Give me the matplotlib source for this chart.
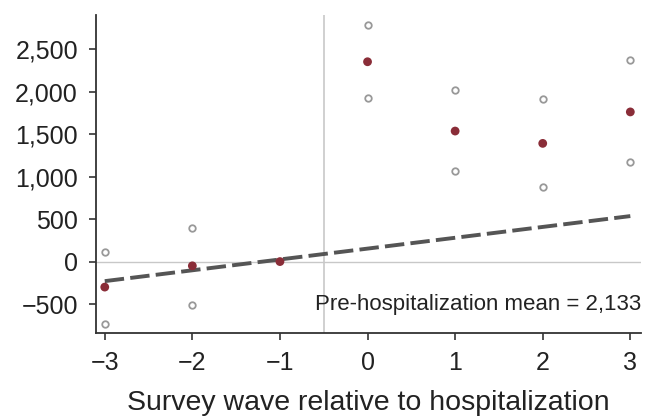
import matplotlib
matplotlib.use("Agg")
import matplotlib.pyplot as plt

plt.rcParams['font.family'] = ['Liberation Sans', 'DejaVu Sans']

waves = [-3, -2, -1, 0, 1, 2, 3]
means = [-300, -50, 0, 2350, 1535, 1390, 1760]
ci_waves = [-3, -3, -2, -2, 0, 0, 1, 1, 2, 2, 3, 3]
ci_bounds = [115, -735, 400, -505, 2780, 1927, 2014, 1068, 1915, 873, 2367, 1167]
trend_x = [-3, 3]
trend_y = [-230, 535]
yticks = [-500, 0, 500, 1000, 1500, 2000, 2500]
xticks = [-3, -2, -1, 0, 1, 2, 3]
note = "Pre-hospitalization mean = 2,133"

fig = plt.figure(figsize=(6.46, 4.16), dpi=100)
ax = fig.add_axes([0.1486, 0.1995, 0.8434, 0.7645])

ax.axhline(0, color='#c8c8c8', lw=1.0, zorder=1)
ax.axvline(-0.5, color='#c8c8c8', lw=1.2, zorder=1)

ax.plot(trend_x, trend_y, color='#555555', lw=2.8, dashes=(5, 1.6), zorder=2)
ax.scatter(ci_waves, ci_bounds, s=22, facecolors='white', edgecolors='#999999',
           linewidths=1.3, zorder=3)
ax.scatter(waves, means, s=40, color='#8a2d38', edgecolors='none', zorder=4)

ax.set_xlim(-3.1, 3.12)
ax.set_ylim(-840, 2900)
ax.set_xticks(xticks)
ax.set_xticklabels(['\u2212' + str(-v) if v < 0 else str(v) for v in xticks])
ax.set_yticks(yticks)
ax.set_yticklabels([('\u2212' if v < 0 else '') + f"{abs(v):,}" for v in yticks])
ax.tick_params(axis='both', labelsize=18, length=5, width=1.2, color='#333333',
               labelcolor='#222222')
ax.tick_params(axis='x', pad=8)
ax.tick_params(axis='y', pad=8)

for side in ['top', 'right']:
    ax.spines[side].set_visible(False)
for side in ['left', 'bottom']:
    ax.spines[side].set_color('#333333')
    ax.spines[side].set_linewidth(1.3)

ax.text(3.12, -500, note, ha='right', va='center', fontsize=16, color='#222222')
ax.set_xlabel("Survey wave relative to hospitalization", fontsize=20.5,
              color='#222222', labelpad=10.5)

fig.savefig("out.png", dpi=100)
